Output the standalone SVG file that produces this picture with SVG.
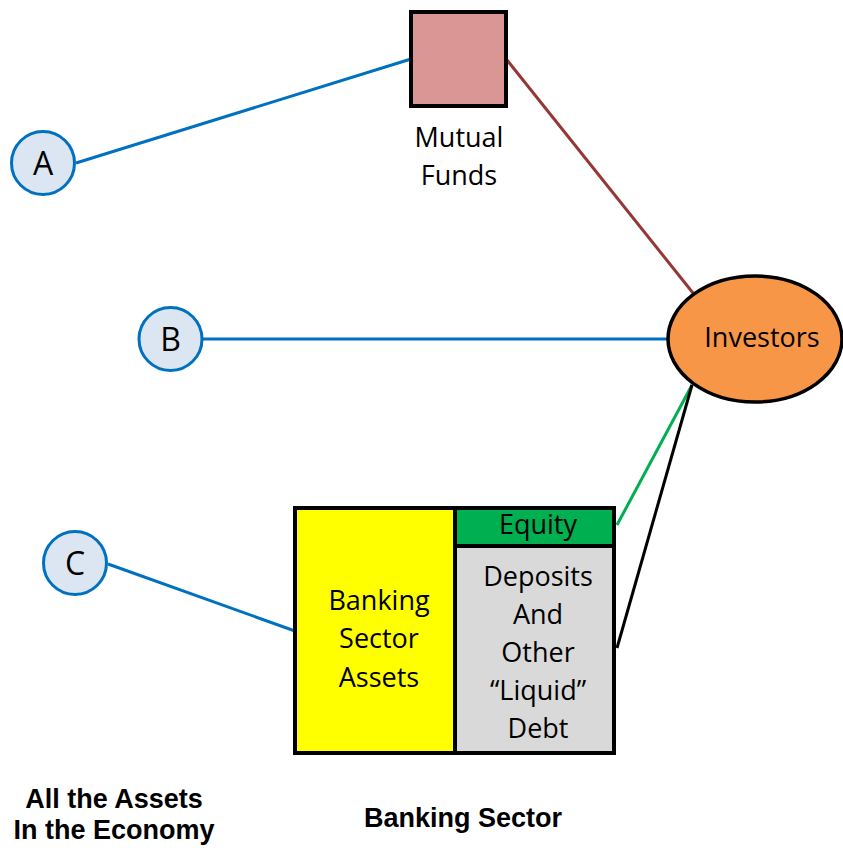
<svg xmlns="http://www.w3.org/2000/svg" width="843" height="855" viewBox="0 0 843 855">
<style>
text{font-family:"Open Sans","Liberation Sans",sans-serif;fill:#000;text-anchor:middle}
.lbl{font-size:27px}
.big{font-size:32px}
.bold{font-family:"Liberation Sans","Open Sans",sans-serif;font-size:27px;font-weight:bold}
.circ{fill:#dce6f2;stroke:#0070c0;stroke-width:3}
.blk{stroke:#000;stroke-width:4}
.conn{fill:none;stroke-width:3}
</style>
<rect width="843" height="855" fill="#fff"/>
<g id="connectors">
<line class="conn" x1="76" y1="163" x2="411" y2="59" stroke="#0070c0"/>
<line class="conn" x1="203" y1="339" x2="668" y2="339" stroke="#0070c0"/>
<line class="conn" x1="108" y1="564" x2="295" y2="631" stroke="#0070c0"/>
<line class="conn" x1="507" y1="60" x2="693" y2="293" stroke="#953735"/>
<line class="conn" x1="617" y1="525" x2="692" y2="385" stroke="#00b050"/>
<line class="conn" x1="617" y1="648" x2="692" y2="385" stroke="#000"/>
</g>
<g id="nodeA">
<circle class="circ" cx="43" cy="163" r="31.5"/>
<text class="big" x="43" y="175">A</text>
</g>
<g id="nodeB">
<circle class="circ" cx="170.5" cy="339" r="31.5"/>
<text class="big" x="170.5" y="351">B</text>
</g>
<g id="nodeC">
<circle class="circ" cx="75" cy="563" r="31.5"/>
<text class="big" x="75" y="575">C</text>
</g>
<g id="mutualFunds">
<rect x="411" y="12" width="95" height="94" fill="#d99694" class="blk"/>
<text class="lbl" x="459" y="147">Mutual</text>
<text class="lbl" x="459" y="185">Funds</text>
</g>
<g id="investors">
<ellipse cx="755" cy="339" rx="87" ry="63" fill="#f79646" stroke="#000" stroke-width="3.5"/>
<text class="lbl" x="762" y="347">Investors</text>
</g>
<g id="bankingSector">
<rect x="295" y="508" width="160" height="245" fill="#ffff00" class="blk"/>
<rect x="455" y="508" width="159" height="38" fill="#00b050" class="blk"/>
<rect x="455" y="546" width="159" height="207" fill="#d9d9d9" class="blk"/>
<text class="lbl" x="379" y="610">Banking</text>
<text class="lbl" x="379" y="648">Sector</text>
<text class="lbl" x="379" y="687">Assets</text>
<text class="lbl" x="538" y="534">Equity</text>
<text class="lbl" x="538" y="586">Deposits</text>
<text class="lbl" x="538" y="624">And</text>
<text class="lbl" x="538" y="662">Other</text>
<text class="lbl" x="538" y="700">“Liquid”</text>
<text class="lbl" x="538" y="738">Debt</text>
</g>
<g id="captions">
<text class="bold" x="114" y="808">All the Assets</text>
<text class="bold" x="114" y="839">In the Economy</text>
<text class="bold" x="463" y="827">Banking Sector</text>
</g>
</svg>
